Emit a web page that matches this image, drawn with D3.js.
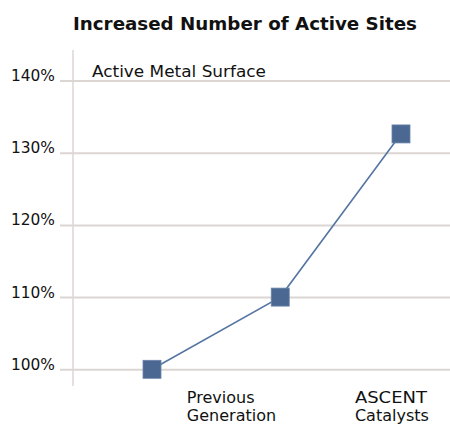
<!DOCTYPE html>
<html>
<head>
<meta charset="utf-8">
<script src="https://cdn.jsdelivr.net/npm/d3@7"></script>
<style>
  html, body { margin: 0; padding: 0; background: #fff; }
  svg { display: block; }
  text { font-family: "DejaVu Sans", sans-serif; fill: #111; }
</style>
</head>
<body>
<svg id="chart" width="450" height="429"></svg>
<script>
// ---- data ----
const title = "Increased Number of Active Sites";
const seriesName = "Active Metal Surface";
const stageX = [0, 1.03, 2];                 // position along the progression
const values = [100, 110, 132.6];            // % active metal surface
const stageLabels = [["Previous", "Generation"], ["ASCENT", "Catalysts"]];
const stageLabelX = [0.28, 1.63];            // label anchor, in stage units
const yTicks = [100, 110, 120, 130, 140];
const yTickLabels = ["100%", "110%", "120%", "130%", "140%"];

// ---- layout ----
const svg = d3.select("#chart");
const x = d3.scaleLinear().domain([0, 2]).range([152, 401]);
const y = d3.scaleLinear().domain([100, 140]).range([369.3, 80.5]);
const gridColor = "#dcd6d3";
const markColor = "#4a6891";

// title
svg.append("text")
  .attr("x", 73).attr("y", 30)
  .attr("font-size", 18).attr("font-weight", "bold")
  .attr("textLength", 344).attr("lengthAdjust", "spacingAndGlyphs")
  .text(title);

// gridlines via axis
const yAxis = d3.axisLeft(y)
  .tickValues(yTicks)
  .tickSize(-390)
  .tickFormat((d, i) => yTickLabels[i]);
const gy = svg.append("g").attr("transform", "translate(450,0)").call(yAxis);
gy.select(".domain").remove();
gy.selectAll(".tick line").attr("stroke", gridColor).attr("stroke-width", 2)
  .attr("x1", -390).attr("x2", 0);
gy.selectAll(".tick text")
  .attr("x", -395).attr("dy", 0).attr("y", 0)
  .attr("font-size", 16).attr("text-anchor", "end")
  .attr("font-family", "DejaVu Sans").attr("fill", "#111")
  .attr("textLength", 44).attr("lengthAdjust", "spacingAndGlyphs");

// vertical axis line
svg.append("line")
  .attr("x1", 73).attr("x2", 73).attr("y1", 50).attr("y2", 386)
  .attr("stroke", gridColor).attr("stroke-width", 1.5);

// series name
svg.append("text")
  .attr("x", 92).attr("y", 77)
  .attr("font-size", 16.5)
  .attr("textLength", 174).attr("lengthAdjust", "spacingAndGlyphs")
  .text(seriesName);

// line
const pts = values.map((v, i) => [x(stageX[i]), y(v)]);
svg.append("path")
  .attr("d", d3.line()(pts))
  .attr("fill", "none").attr("stroke", "#5576a3").attr("stroke-width", 1.6);

// markers
const s = 18;
svg.selectAll("rect.mk").data(values).enter().append("rect")
  .attr("class", "mk")
  .attr("x", (d, i) => x(stageX[i]) - s / 2)
  .attr("y", d => y(d) - s / 2)
  .attr("width", s).attr("height", s)
  .attr("fill", markColor).attr("stroke", "#6a84aa").attr("stroke-width", 0.8);

// stage labels
stageLabels.forEach((lines, i) => {
  const t = svg.append("text")
    .attr("x", x(stageLabelX[i])).attr("y", 403)
    .attr("font-size", 16);
  lines.forEach((ln, j) => {
    const sp = t.append("tspan").attr("x", x(stageLabelX[i])).attr("dy", j === 0 ? 0 : 18).text(ln);
    if (ln === "ASCENT") sp.attr("textLength", 72).attr("lengthAdjust", "spacingAndGlyphs");
  });
});
</script>
</body>
</html>
